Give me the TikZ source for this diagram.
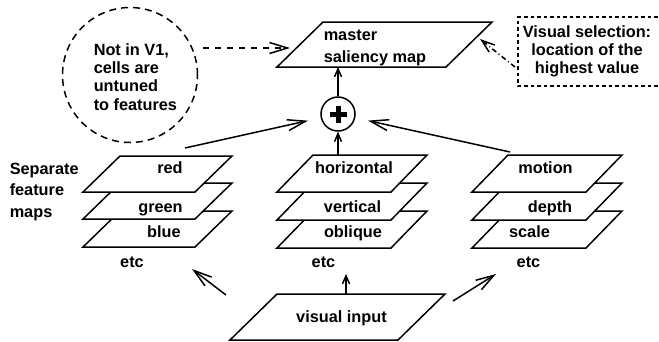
\documentclass[tikz,border=0pt]{standalone}
\usepackage{fontspec}
\setmainfont{Liberation Sans}
\usetikzlibrary{arrows.meta}

% one feature sheet: top-left corner, width, skew, height
\newcommand\drawsheet[5]{\draw[sheet] (#1,#2) -- ++(#3,0) -- ++(-#4,#5) -- ++(-#3,0) -- cycle;}

\begin{document}
\begin{tikzpicture}[x=1pt, y=-1pt, line width=1.5pt,
  lbl/.style={font=\fontsize{16.3}{18.4}\selectfont\bfseries, inner sep=0pt},
  sheet/.style={draw, fill=white, line join=miter},
  bigtip/.style={-{Straight Barb[length=18pt,width=11pt]}},
  midtip/.style={-{Straight Barb[length=13pt,width=9pt]}},
  smalltip/.style={-{Straight Barb[length=8pt,width=7pt]}},
]
\useasboundingbox (0,0) rectangle (659,341);

% master map and input sheet
\drawsheet{323}{22}{169}{46}{45}
\drawsheet{277}{294}{168}{47}{46}

% colour stack
\drawsheet{120}{211}{112}{37}{36}
\drawsheet{120}{183}{112}{37}{36}
\drawsheet{120}{156}{112}{37}{36}
% orientation stack
\drawsheet{313}{211}{114}{36}{37}
\drawsheet{313}{183}{114}{36}{37}
\drawsheet{313}{155}{114}{36}{37}
% motion stack
\drawsheet{508}{211}{114}{36}{37}
\drawsheet{508}{183}{114}{36}{37}
\drawsheet{508}{155}{114}{36}{37}

% labels (multi-line nodes sit on the baseline of their last line)
\node[lbl, anchor=base west, align=left, font=\fontsize{16.3}{22}\selectfont\bfseries] (master) at (323,62) {master\\saliency map};
\node[lbl, anchor=base] (input) at (341.5,322) {visual input};

\node[lbl, anchor=base] (red) at (170,173) {red};
\node[lbl, anchor=base] (green) at (160.5,212) {green};
\node[lbl, anchor=base] (blue) at (164,237) {blue};
\node[lbl, anchor=base] (etcA) at (132,267) {etc};

\node[lbl, anchor=base] (horiz) at (354,173) {horizontal};
\node[lbl, anchor=base] (vert) at (352.5,212) {vertical};
\node[lbl, anchor=base] (obl) at (353,237) {oblique};
\node[lbl, anchor=base] (etcB) at (323.5,267) {etc};

\node[lbl, anchor=base] (motion) at (545.5,173) {motion};
\node[lbl, anchor=base] (depth) at (550,212) {depth};
\node[lbl, anchor=base] (scale) at (529.5,237) {scale};
\node[lbl, anchor=base] (etcC) at (528.5,267) {etc};

\node[lbl, anchor=base west, align=left, font=\fontsize{16.3}{21.5}\selectfont\bfseries] (sep) at (9,217) {Separate\\feature\\maps};

% note circle
\node[draw, circle, minimum size=135pt, inner sep=0pt, dash pattern=on 7pt off 5pt] (note) at (130,75) {};
\node[lbl, anchor=base west, align=left, font=\fontsize{16.3}{18.3}\selectfont\bfseries] (notetext) at (93,110) {Not in V1,\\cells are\\untuned\\to features};

% selection box, open to the right
\draw[dash pattern=on 3.5pt off 3pt] (664,17) -- (518,17) -- (518,86) -- (664,86);
\node[lbl, anchor=base, align=center, font=\fontsize{16.3}{18}\selectfont\bfseries] (seltext) at (587,73) {Visual selection:\\location of the\\highest value};

% summing junction
\node[draw, circle, minimum size=34pt, inner sep=0pt,
  path picture={\draw[line width=5pt] (path picture bounding box.center) ++(-8.5,0) -- ++(17,0)
                (path picture bounding box.center) ++(0,-8.5) -- ++(0,17);}] (plus) at (338,114) {};

% connector end points
\coordinate (redTop) at (185,148);
\coordinate (motionTop) at (510,152);
\coordinate (horizTop) at (338,155);
\coordinate (masterS) at (338,67);
\coordinate (noteE) at (203,48);
\coordinate (masterW) at (290,48);
\coordinate (selW) at (515,67);
\coordinate (masterNE) at (480,39);
\coordinate (inNW) at (226,295);
\coordinate (colourS) at (192,269);
\coordinate (inN) at (346,294);
\coordinate (orientS) at (346,274);
\coordinate (inNE) at (453,301);
\coordinate (motionS) at (496,274);

% connectors
\draw[bigtip, shorten >=13pt] (redTop) -- (plus);
\draw[bigtip, shorten >=13pt] (motionTop) -- (plus);
\draw[smalltip] (horizTop) -- (plus);
\draw[smalltip] (plus) -- (masterS);
\draw[bigtip, dash pattern=on 6pt off 6pt] (noteE) -- (masterW);
\draw[midtip, dash pattern=on 5pt off 3pt on 1pt off 3pt] (selW) -- (masterNE);
\draw[bigtip] (inNW) -- (colourS);
\draw[smalltip] (inN) -- (orientS);
\draw[bigtip] (inNE) -- (motionS);
\end{tikzpicture}
\end{document}
